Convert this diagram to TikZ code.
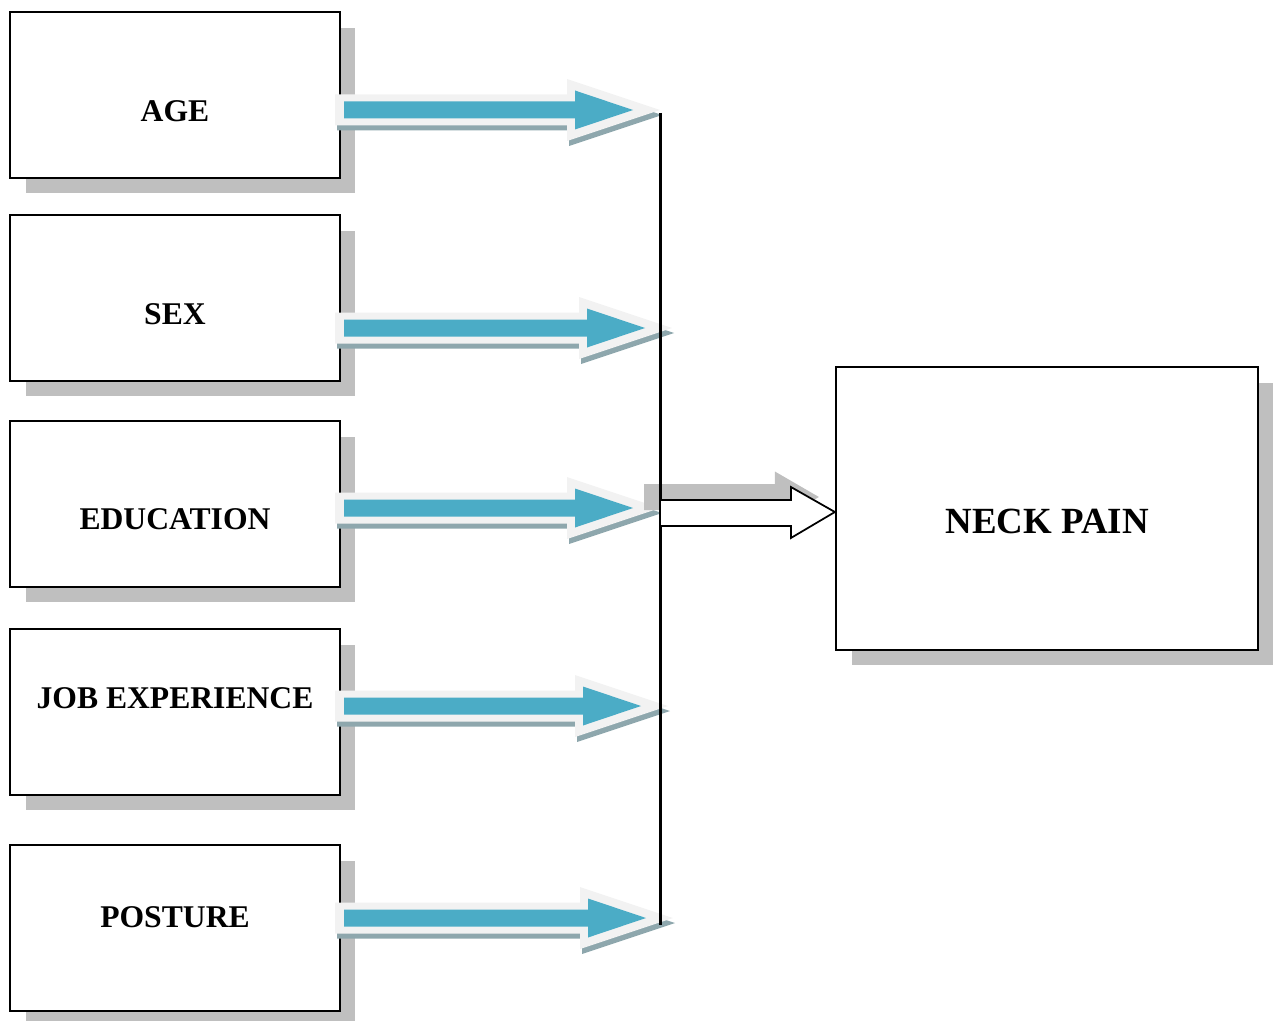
\documentclass[tikz,border=0pt]{standalone}
\usepackage{fontspec}
\setmainfont{Liberation Serif}
\usetikzlibrary{shadows}
\definecolor{arrblue}{HTML}{4BACC6}
\definecolor{arrouter}{HTML}{F2F2F2}
\definecolor{arrshadow}{HTML}{8EA7AD}
\definecolor{boxshadow}{HTML}{BFBFBF}
% one layer of a fat horizontal arrow from start #2 to tip #3
% #1 colour, #4 dy, #5 start forward, #6 tip back, #7 head length, #8 body half, #9 head half
\newcommand\arrlayer[9]{%
  \pgfmathsetmacro\xa{#5}%
  \pgfmathsetmacro\xb{-(#6)-(#7)}%
  \pgfmathsetmacro\xc{-(#6)}%
  \pgfmathsetmacro\ya{(#4)-(#8)}%
  \pgfmathsetmacro\yb{(#4)+(#8)}%
  \pgfmathsetmacro\yc{(#4)-(#9)}%
  \pgfmathsetmacro\yd{(#4)+(#9)}%
  \fill[#1] ([shift={(\xa,\ya)}]#2) -- ([shift={(\xb,\ya)}]#3) -- ([shift={(\xb,\yc)}]#3)
    -- ([shift={(\xc,#4)}]#3) -- ([shift={(\xb,\yd)}]#3) -- ([shift={(\xb,\yb)}]#3)
    -- ([shift={(\xa,\yb)}]#2) -- cycle;}
\newcommand\fatarrow[2]{%
  \arrlayer{arrshadow}{#1}{#2}{5}{2}{-2}{93}{15.5}{31}%
  \arrlayer{arrouter}{#1}{#2}{0}{0}{0}{93}{15.5}{31}%
  \arrlayer{arrblue}{#1}{#2}{0}{9}{27}{58}{8.5}{19.5}}
\tikzset{
  factorbox/.style={draw, line width=1.3pt, fill=white, minimum width=6.6cm, minimum height=3.32cm,
    inner sep=0pt, drop shadow={shadow xshift=0.31cm, shadow yshift=-0.31cm, fill=boxshadow, opacity=1}},
  factorlabel/.style={font=\fontsize{18}{20}\selectfont\bfseries, inner sep=0pt},
  outbox/.style={draw, line width=1.3pt, fill=white, minimum width=8.44cm, minimum height=5.66cm,
    inner sep=0pt, drop shadow={shadow xshift=0.31cm, shadow yshift=-0.31cm, fill=boxshadow, opacity=1}},
  outlabel/.style={font=\fontsize{21}{24}\selectfont\bfseries, inner sep=0pt},
  bar/.style={line width=1.7pt},
}
\begin{document}
\begin{tikzpicture}[x=0.02cm, y=-0.02cm]
\useasboundingbox (0,0) rectangle (1273,1020);
% factor boxes
\node[factorbox] (age)  at (175,95) {};
\node[factorbox] (sex)  at (175,298) {};
\node[factorbox] (edu)  at (175,504) {};
\node[factorbox] (job)  at (175,712) {};
\node[factorbox] (post) at (175,928) {};
\node[factorlabel] (tage)  at (175,111) {AGE};
\node[factorlabel] (tsex)  at (175,314) {SEX};
\node[factorlabel] (tedu)  at (175,519) {EDUCATION};
\node[factorlabel] (tjob)  at (175,698) {JOB EXPERIENCE};
\node[factorlabel] (tpost) at (175,917) {POSTURE};
% outcome box
\node[outbox] (np) at (1047,508.5) {};
\node[outlabel] (tnp) at (1047,521) {NECK PAIN};
% arrow end points
\coordinate (sA) at (335,110);  \coordinate (eA) at (660,110);
\coordinate (sS) at (335,328);  \coordinate (eS) at (672,328);
\coordinate (sE) at (335,508);  \coordinate (eE) at (660,508);
\coordinate (sJ) at (335,706);  \coordinate (eJ) at (668,706);
\coordinate (sP) at (335,918);  \coordinate (eP) at (673,918);
\fatarrow{sA}{eA}
\fatarrow{sS}{eS}
\fatarrow{sE}{eE}
\fatarrow{sJ}{eJ}
\fatarrow{sP}{eP}
% joint arrow to outcome
\coordinate (bj) at (660,512);
\coordinate (bt) at (np.west |- bj);
\fill[boxshadow] ([shift={(-16,-28)}]bj) -- ([shift={(-60,-28)}]bt) -- ([shift={(-60,-40.5)}]bt)
  -- ([shift={(-16,-15)}]bt) -- ([shift={(-60,10.5)}]bt) -- ([shift={(-60,-2)}]bt) -- ([shift={(-16,-2)}]bj) -- cycle;
% vertical bar
\coordinate (bartop) at (660,113);
\coordinate (barbot) at (660,925);
\draw[bar] (bartop) -- (barbot);
\draw[fill=white, line width=1pt, line join=miter] ([shift={(0,-12)}]bj) -- ([shift={(-44,-12)}]bt) -- ([shift={(-44,-25)}]bt)
  -- (bt) -- ([shift={(-44,26)}]bt) -- ([shift={(-44,14)}]bt) -- ([shift={(0,14)}]bj) -- cycle;
\end{tikzpicture}
\end{document}
